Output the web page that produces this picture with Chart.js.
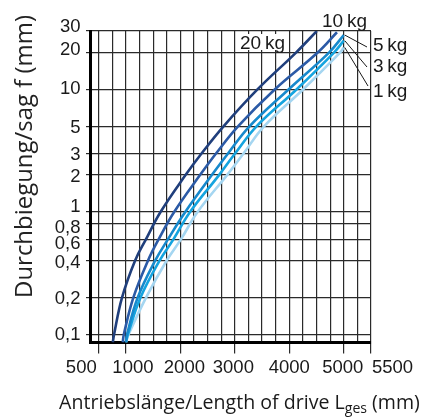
<!DOCTYPE html>
<html>
<head>
<meta charset="utf-8">
<script src="https://cdn.jsdelivr.net/npm/chart.js@4.4.1/dist/chart.umd.min.js"></script>
<style>
  html, body { margin: 0; padding: 0; background: #fff; }
  canvas { display: block; }
</style>
</head>
<body>
<canvas id="chart" width="439" height="418"></canvas>
<script>
// grid every 250 mm, labels only on some of them
const xTicks = [500, 750, 1000, 1250, 1500, 1750, 2000, 2250, 2500, 2750, 3000, 3250, 3500, 3750, 4000, 4250, 4500, 4750, 5000, 5250, 5500];
const xLabels = [500, 1000, 2000, 3000, 4000, 5000, 5500];
const yTicks = [0.1, 0.2, 0.4, 0.6, 0.8, 1, 2, 3, 5, 10, 20, 30];

const massLabels = ['20\u2009kg', '10\u2009kg', '5\u2009kg', '3\u2009kg', '1\u2009kg'];

// drive length (mm) / sag (mm)
const len20 = [758, 782, 928, 1167, 1369, 1635, 2094, 2388, 2792, 3415, 4123, 4505];
const sag20 = [0.086, 0.1, 0.2, 0.4, 0.6, 1, 2, 3, 5, 10, 20, 30];
const len10 = [941, 961, 1136, 1404, 1602, 1885, 2360, 2654, 3058, 3732, 4521, 4875];
const sag10 = [0.086, 0.1, 0.2, 0.4, 0.6, 1, 2, 3, 5, 10, 20, 29.3];
const len5 = [1000, 1020, 1215, 1536, 1773, 2089, 2577, 2874, 3269, 3986, 4729, 5000];
const sag5 = [0.086, 0.1, 0.2, 0.4, 0.6, 1, 2, 3, 5, 10, 20, 27.8];
const len3 = [1000, 1035, 1268, 1617, 1874, 2177, 2709, 3003, 3398, 4132, 4820, 5000];
const sag3 = [0.086, 0.1, 0.2, 0.4, 0.6, 1, 2, 3, 5, 10, 20, 25];
const len1 = [1000, 1048, 1369, 1745, 2012, 2315, 2856, 3159, 3536, 4252, 4931, 5000];
const sag1 = [0.086, 0.1, 0.2, 0.4, 0.6, 1, 2, 3, 5, 10, 20, 22];

const lengths = [len20, len10, len5, len3, len1];
const sags = [sag20, sag10, sag5, sag3, sag1];
const seriesColors = ['#203f7c', '#2b5aa6', '#1789cc', '#15a4df', '#a5d6f1'];

const gridColor = '#2a2a2a';
const textColor = '#1a1a1a';

// tick labels, titles and curve labels (drawn by hand: uneven label placement, subscript)
const annotations = {
    id: 'annotations',
    afterDraw(chart) {
        const ctx = chart.ctx;
        const xs = chart.scales.x;
        const ys = chart.scales.y;
        ctx.save();
        ctx.fillStyle = textColor;
        ctx.textBaseline = 'alphabetic';

        // x tick labels
        const xLabelShift = { 500: [-2, 'right'], 1000: [7, 'center'], 2000: [4, 'center'], 3000: [-1.5, 'center'], 4000: [0, 'center'], 5000: [-1, 'center'], 5500: [1, 'left'] };
        ctx.font = '18.5px "Liberation Sans"';
        xLabels.forEach(v => {
            const s = xLabelShift[v];
            ctx.textAlign = s[1];
            ctx.fillText(String(v), xs.getPixelForValue(v) + s[0], 373);
        });

        // y tick labels
        const yLabelShift = { 30: -6, 20: -4, 10: -2, 5: 0, 3: 0, 2: 0, 1: -6, 0.8: 2.5, 0.6: 3.5, 0.4: 0.5, 0.2: 0, 0.1: -1 };
        ctx.textAlign = 'right';
        yTicks.forEach(v => {
            ctx.fillText(String(v).replace('.', ','), 80.5, ys.getPixelForValue(v) + yLabelShift[v] + 6.5);
        });

        // x title with subscript, scaled to span the same width as the original
        const main = 'Antriebslänge/Length of drive L';
        const sub = 'ges';
        const tail = ' (mm)';
        const fam = '"Open Sans"';
        const measure = size => {
            ctx.font = size + 'px ' + fam;
            const a = ctx.measureText(main).width;
            const c = ctx.measureText(tail).width;
            ctx.font = (size * 0.72) + 'px ' + fam;
            const b = ctx.measureText(sub).width;
            return [a, b, c];
        };
        let m = measure(20);
        const size = 20 * 361 / (m[0] + m[1] + m[2]);
        m = measure(size);
        const x0 = 239.5 - (m[0] + m[1] + m[2]) / 2;
        ctx.textAlign = 'left';
        ctx.font = size + 'px ' + fam;
        ctx.fillText(main, x0, 409);
        ctx.font = (size * 0.72) + 'px ' + fam;
        ctx.fillText(sub, x0 + m[0], 413);
        ctx.font = size + 'px ' + fam;
        ctx.fillText(tail, x0 + m[0] + m[1], 409);

        // y title
        const yTitle = 'Durchbiegung/sag f (mm)';
        ctx.font = '20px ' + fam;
        const ySize = 20 * 283 / ctx.measureText(yTitle).width;
        ctx.font = ySize + 'px ' + fam;
        ctx.fillStyle = '#222';
        ctx.save();
        ctx.translate(32, 156.5);
        ctx.rotate(-Math.PI / 2);
        ctx.textAlign = 'center';
        ctx.fillText(yTitle, 0, 0);
        ctx.restore();

        // curve labels
        ctx.font = '19px "Liberation Sans"';
        ctx.textAlign = 'left';
        const w20 = ctx.measureText(massLabels[0]).width;
        ctx.fillStyle = '#fff';
        ctx.fillRect(239, 34, w20 + 2, 16);
        ctx.fillStyle = textColor;
        ctx.fillText(massLabels[0], 240, 49);
        ctx.fillText(massLabels[1], 322, 27);

        const labelPos = [[373, 51, 367, 47], [373, 72, 367, 67], [373, 97, 368, 86]];
        ctx.strokeStyle = textColor;
        ctx.lineWidth = 1;
        for (let i = 0; i < 3; i++) {
            const s = i + 2;
            const n = lengths[s].length - 1;
            const px = xs.getPixelForValue(lengths[s][n]);
            const py = ys.getPixelForValue(sags[s][n]);
            ctx.beginPath();
            ctx.moveTo(px + 1, py);
            ctx.lineTo(labelPos[i][2], labelPos[i][3]);
            ctx.stroke();
            ctx.fillText(massLabels[s], labelPos[i][0], labelPos[i][1]);
        }
        ctx.restore();
    }
};

const datasets = massLabels.map((m, i) => ({
    label: m,
    data: lengths[i].map((x, j) => ({ x: x, y: sags[i][j] })),
    borderColor: seriesColors[i],
    borderWidth: 2.6,
    pointRadius: 0,
    fill: false,
    tension: 0.4
}));

new Chart(document.getElementById('chart'), {
    type: 'line',
    data: { datasets: datasets },
    options: {
        responsive: false,
        animation: false,
        layout: { padding: { top: 31, right: 68, left: 0, bottom: 0 } },
        plugins: { legend: { display: false }, tooltip: { enabled: false } },
        scales: {
            x: {
                type: 'linear',
                min: 340,
                max: 5500,
                afterBuildTicks: s => { s.ticks = xTicks.map(v => ({ value: v })); },
                afterFit: s => { s.height = 75.5; },
                ticks: { autoSkip: false, maxRotation: 0, callback: () => '' },
                grid: {
                    color: gridColor,
                    lineWidth: 1.2,
                    tickLength: 11,
                    tickColor: c => (c.tick && xLabels.includes(c.tick.value)) ? gridColor : 'rgba(0,0,0,0)'
                },
                border: { display: true, color: '#000', width: 3 }
            },
            y: {
                type: 'logarithmic',
                min: 0.086,
                max: 30,
                afterBuildTicks: s => { s.ticks = yTicks.map(v => ({ value: v })); },
                afterFit: s => { s.width = 90; },
                ticks: { autoSkip: false, callback: () => '' },
                grid: { color: gridColor, lineWidth: 1.2, tickLength: 4 },
                border: { display: true, color: '#000', width: 3 }
            }
        }
    },
    plugins: [annotations]
});
</script>
</body>
</html>
